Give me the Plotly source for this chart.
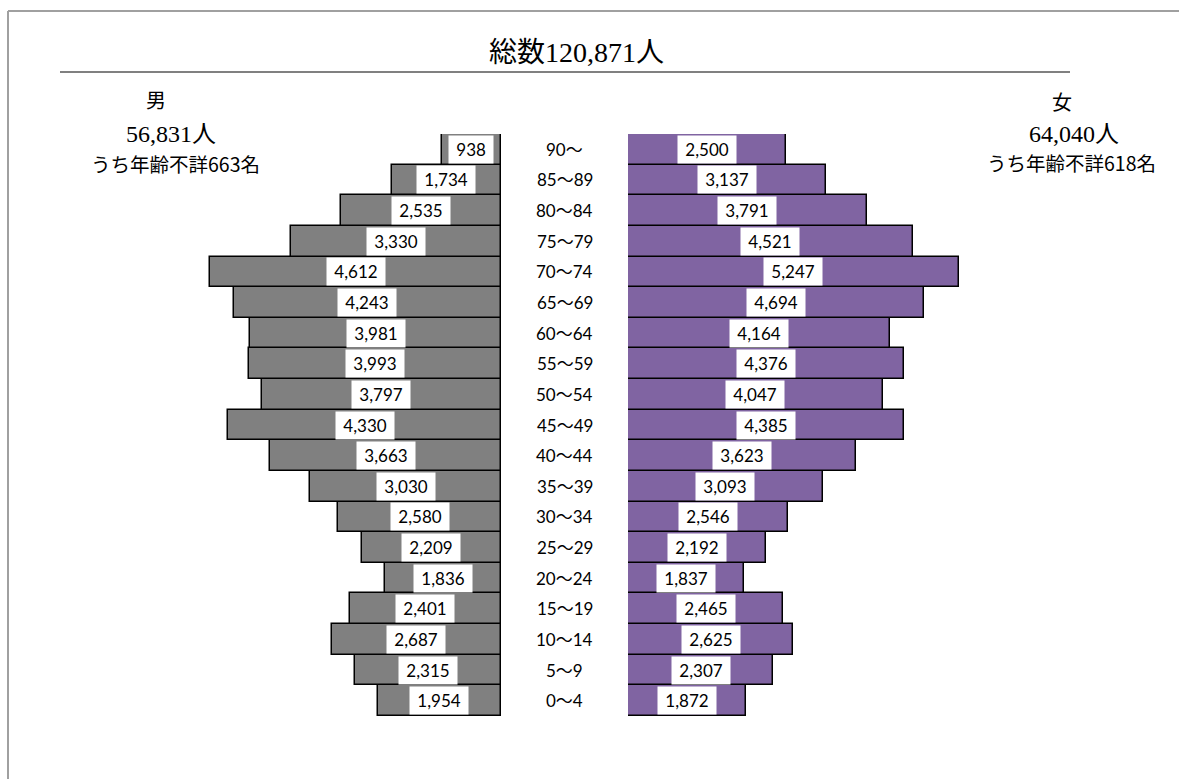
import plotly.graph_objects as go

# Age groups, youngest first (bottom of the pyramid)
age_groups = ["0～4", "5～9", "10～14", "15～19", "20～24", "25～29", "30～34",
              "35～39", "40～44", "45～49", "50～54", "55～59", "60～64",
              "65～69", "70～74", "75～79", "80～84", "85～89", "90～"]
male = [1954, 2315, 2687, 2401, 1836, 2209, 2580, 3030, 3663, 4330, 3797,
        3993, 3981, 4243, 4612, 3330, 2535, 1734, 938]
female = [1872, 2307, 2625, 2465, 1837, 2192, 2546, 3093, 3623, 4385, 4047,
          4376, 4164, 4694, 5247, 4521, 3791, 3137, 2500]

title_text = "総数120,871人"
male_head = ["男", "56,831人", "うち年齢不詳663名"]
female_head = ["女", "64,040人", "うち年齢不詳618名"]

W, H = 1179, 779
SCALE = 0.0630          # pixels per person
MALE_EDGE = 501         # px where male bars start (right edge)
FEMALE_EDGE = 628       # px where female bars start (left edge)
ROW_TOP, ROW_BOTTOM = 134, 716

SERIF = "Liberation Serif, Noto Sans CJK JP, serif"
SANS = "Lato, Noto Sans CJK JP, sans-serif"
CJK = "Noto Sans CJK JP, sans-serif"


def px(x):
    return x / W


def py(y):
    return 1 - y / H


fig = go.Figure()
fig.add_trace(go.Bar(
    y=age_groups, x=male, orientation="h", xaxis="x", yaxis="y",
    marker=dict(color="#808080", line=dict(color="#000000", width=1.5)),
    hoverinfo="x+y", showlegend=False,
))
fig.add_trace(go.Bar(
    y=age_groups, x=female, orientation="h", xaxis="x2", yaxis="y",
    marker=dict(color="#8064A2", line=dict(color="#000000", width=1.5)),
    hoverinfo="x+y", showlegend=False,
))

annotations = []
label_font = dict(family=SANS, size=17, color="#000000")
# value labels in white boxes, centred on each bar
for age, m, f in zip(age_groups, male, female):
    annotations.append(dict(
        x=m / 2, y=age, xref="x", yref="y", text=f" {m:,} ", showarrow=False,
        xanchor="center", yanchor="middle",
        font=label_font, bgcolor="#FFFFFF", borderpad=3,
    ))
    annotations.append(dict(
        x=f / 2, y=age, xref="x2", yref="y", text=f" {f:,} ", showarrow=False,
        xanchor="center", yanchor="middle",
        font=label_font, bgcolor="#FFFFFF", borderpad=3,
    ))
    # age group label in the centre gap
    annotations.append(dict(
        x=px((MALE_EDGE + FEMALE_EDGE) / 2), y=age, xref="paper", yref="y",
        text=age, showarrow=False, xanchor="center", yanchor="middle",
        font=label_font,
    ))

# title and the two side headers
annotations.append(dict(
    x=px(576), y=py(53), xref="paper", yref="paper", text=title_text,
    showarrow=False, xanchor="center", yanchor="middle",
    font=dict(family=SERIF, size=28, color="#000000"),
))
head_pos_m = [(156, 101, 20, SERIF), (171, 134, 24, SERIF), (175, 163, 19.5, CJK)]
head_pos_f = [(1062, 103, 20, SERIF), (1074, 134, 24, SERIF), (1071, 162, 19.5, CJK)]
for txt, (x, y, s, fam) in zip(male_head + female_head, head_pos_m + head_pos_f):
    annotations.append(dict(x=px(x), y=py(y), xref="paper", yref="paper",
                            text=txt, showarrow=False,
                            xanchor="center", yanchor="middle",
                            font=dict(family=fam, size=s, color="#000000")))

shapes = [
    # rule under the title
    dict(type="line", xref="paper", yref="paper", x0=px(60), x1=px(1070),
         y0=py(72), y1=py(72), line=dict(color="#808080", width=2)),
    # outer frame (top and left edges)
    dict(type="line", xref="paper", yref="paper", x0=px(8), x1=1,
         y0=py(11), y1=py(11), line=dict(color="#A0A0A0", width=2)),
    dict(type="line", xref="paper", yref="paper", x0=px(8), x1=px(8),
         y0=py(11), y1=0, line=dict(color="#A0A0A0", width=2)),
]

axis_common = dict(showgrid=False, zeroline=False, showticklabels=False,
                   showline=False, ticks="", fixedrange=True)

fig.update_layout(
    width=W, height=H,
    margin=dict(l=0, r=0, t=0, b=0),
    paper_bgcolor="#FFFFFF", plot_bgcolor="rgba(0,0,0,0)",
    barmode="overlay", bargap=0,
    xaxis=dict(domain=[0, px(MALE_EDGE)],
               range=[MALE_EDGE / SCALE, 0], **axis_common),
    xaxis2=dict(domain=[px(FEMALE_EDGE), 1],
                range=[0, (W - FEMALE_EDGE) / SCALE], **axis_common),
    yaxis=dict(domain=[py(ROW_BOTTOM), py(ROW_TOP)], type="category",
               categoryorder="array", categoryarray=age_groups,
               range=[-0.5, len(age_groups) - 0.5], **axis_common),
    annotations=annotations,
    shapes=shapes,
    showlegend=False,
)

fig.write_html("out.html")
